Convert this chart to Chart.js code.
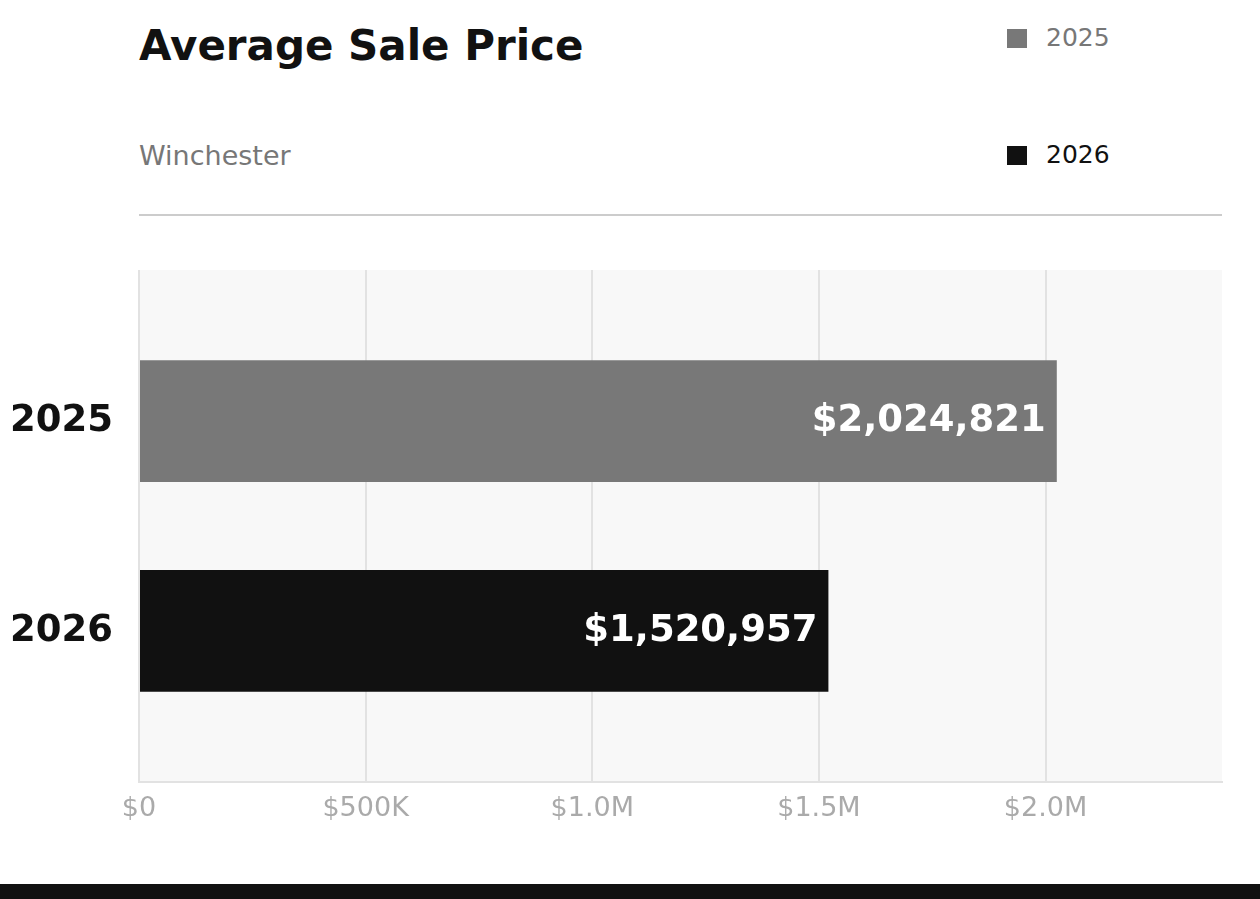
<!DOCTYPE html>
<html>
<head>
<meta charset="utf-8">
<script src="https://cdn.jsdelivr.net/npm/chart.js@4"></script>
<style>
  html, body { margin: 0; padding: 0; background: #fff; }
  body { width: 1260px; height: 899px; position: relative; overflow: hidden; font-family: "DejaVu Sans", sans-serif; }
  #title { position: absolute; left: 139px; top: 21px; font-size: 42px; font-weight: bold; color: #111; line-height: 50px; }
  #subtitle { position: absolute; left: 139px; top: 139px; font-size: 27px; color: #777; line-height: 34px; }
  #rule { position: absolute; left: 139px; top: 214px; width: 1083px; height: 2px; background: #ccc; }
  .leg { position: absolute; left: 1007px; font-size: 25px; line-height: 30px; display: flex; align-items: center; }
  .leg span.sw { display: inline-block; width: 20px; height: 19px; margin-right: 19px; }
  #footer { position: absolute; left: 0; top: 884px; width: 1260px; height: 15px; background: #111; }
  #wrap { position: absolute; left: 0; top: 0; width: 1260px; height: 899px; }
</style>
</head>
<body>
<div id="title">Average Sale Price</div>
<div id="subtitle">Winchester</div>
<div id="rule"></div>
<div id="legend"></div>
<div id="wrap"><canvas id="chart"></canvas></div>
<div id="footer"></div>
<script>
const categories = ['2025', '2026'];
const prices = [2024821, 1520957];
const barColors = ['#787878', '#111111'];
const legendColors = ['#777777', '#111111'];
const tickValues = [0, 500000, 1000000, 1500000, 2000000];

// legend (top right)
const legendTops = [23, 140];
categories.forEach((c, i) => {
  const el = document.createElement('div');
  el.className = 'leg';
  el.style.top = legendTops[i] + 'px';
  el.style.color = legendColors[i];
  el.innerHTML = '<span class="sw" style="background:' + barColors[i] + '"></span>' + c;
  document.getElementById('legend').appendChild(el);
});

function money(v) {
  if (v === 0) return '$0';
  if (v >= 1000000) return '$' + (v / 1000000).toFixed(1) + 'M';
  return '$' + Math.round(v / 1000) + 'K';
}

const plotBg = {
  id: 'plotBg',
  beforeDraw(chart) {
    const a = chart.chartArea, ctx = chart.ctx;
    ctx.save();
    ctx.fillStyle = '#f8f8f8';
    ctx.fillRect(a.left, a.top, a.right - a.left, a.bottom - a.top);
    ctx.restore();
  }
};

const valueLabels = {
  id: 'valueLabels',
  afterDatasetsDraw(chart) {
    const ctx = chart.ctx;
    const meta = chart.getDatasetMeta(0);
    ctx.save();
    ctx.font = 'bold 37px "DejaVu Sans"';
    ctx.fillStyle = '#ffffff';
    ctx.textAlign = 'right';
    ctx.textBaseline = 'middle';
    meta.data.forEach((bar, i) => {
      ctx.fillText('$' + prices[i].toLocaleString('en-US'), bar.x - 11, bar.y);
    });
    ctx.restore();
  }
};

Chart.defaults.font.family = '"DejaVu Sans", sans-serif';

new Chart(document.getElementById('chart'), {
  type: 'bar',
  data: {
    datasets: [{
      data: prices.map((p, i) => ({ x: p, y: i })),
      backgroundColor: barColors,
      borderWidth: 0,
      categoryPercentage: 1,
      barPercentage: 0.58
    }]
  },
  options: {
    indexAxis: 'y',
    responsive: true,
    maintainAspectRatio: false,
    animation: false,
    layout: { padding: { top: 270, right: 38, bottom: 60, left: 0 } },
    plugins: { legend: { display: false }, tooltip: { enabled: false } },
    scales: {
      x: {
        type: 'linear',
        min: 0,
        max: Math.max(...prices) * 1.18,
        afterBuildTicks(scale) { scale.ticks = tickValues.map(v => ({ value: v })); },
        afterFit(scale) { scale.height = 57; },
        grid: { color: '#e2e2e2', lineWidth: 2, drawTicks: false },
        border: { color: '#e2e2e2', width: 2 },
        ticks: {
          color: '#aaaaaa',
          font: { size: 27 },
          padding: 11,
          maxRotation: 0,
          callback: v => money(v)
        }
      },
      y: {
        type: 'linear',
        reverse: true,
        offset: false,
        min: -0.72,
        max: 1.72,
        afterBuildTicks(scale) { scale.ticks = categories.map((c, i) => ({ value: i })); },
        afterFit(scale) { scale.width = 139; },
        grid: { display: false, drawTicks: false },
        border: { display: false },
        ticks: {
          color: '#111111',
          font: { size: 37, weight: 'bold' },
          padding: 26,
          callback: v => categories[v]
        }
      }
    }
  },
  plugins: [plotBg, valueLabels]
});
</script>
</body>
</html>
